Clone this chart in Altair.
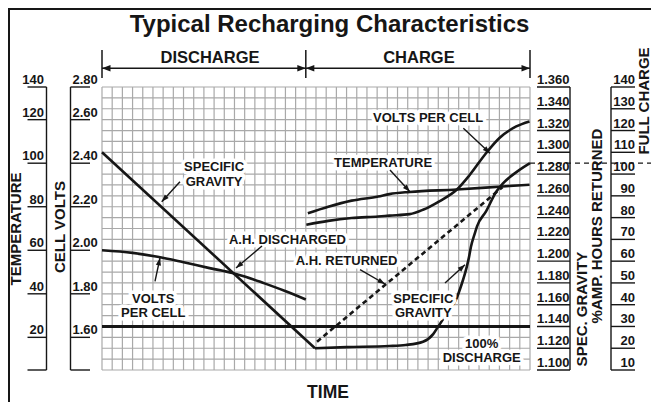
import math
import altair as alt
import pandas as pd

# ---------------- data (time axis in grid columns: discharge 0-20, charge 20-42) -------------
sg_dis_t = [0.0, 20.9]
sg_dis = [1.300, 1.120]

sg_chg_t = [20.9, 24.0, 28.2, 29.8, 31.5, 32.5, 33.0, 33.9, 34.8, 35.3, 35.6, 35.8, 36.0,
            36.2, 36.6, 36.8, 37.7, 38.7, 39.3, 40.7, 42.0]
sg_chg = [1.120, 1.121, 1.122, 1.123, 1.126, 1.133, 1.140, 1.153, 1.166, 1.179, 1.188, 1.195,
          1.203, 1.213, 1.226, 1.232, 1.246, 1.264, 1.271, 1.282, 1.290]

vpc_dis_t = [0.0, 3.0, 5.45, 7.9, 10.55, 12.8, 14.0, 15.95, 17.9, 20.0]
vpc_dis = [2.000, 1.988, 1.970, 1.946, 1.918, 1.896, 1.880, 1.848, 1.814, 1.774]

vpc_chg_t = [20.05, 22.2, 24.5, 27.1, 28.2, 30.2, 31.5, 33.1, 34.8, 36.1, 37.7, 39.0, 40.65, 41.95]
vpc_chg = [2.117, 2.135, 2.148, 2.155, 2.159, 2.166, 2.186, 2.225, 2.278, 2.347, 2.447, 2.516,
           2.569, 2.592]

temp_t = [20.2, 22.2, 24.5, 27.1, 28.2, 30.2, 34.8, 39.3, 41.95]
temp_f = [77.0, 80.0, 82.8, 84.7, 85.8, 86.8, 87.9, 89.3, 90.1]

ah_ret_t = [21.1, 39.3]
ah_ret_pct = [23, 94]

full_discharge_sg = 1.14
full_charge_sg = 1.29

temp_ticks = [20, 40, 60, 80, 100, 120, 140]
volt_ticks = [1.60, 1.80, 2.00, 2.20, 2.40, 2.60, 2.80]
sg_ticks = [1.100, 1.120, 1.140, 1.160, 1.180, 1.200, 1.220, 1.240, 1.260, 1.280, 1.300,
            1.320, 1.340, 1.360]
pct_ticks = [10, 20, 30, 40, 50, 60, 70, 80, 90, 100, 110, 120, 130, 140]

# ---------------- helpers -------------
W, H = 428, 283
FONT = "Liberation Sans"
INK = "#161616"
PX_COL = W / 42.0
PX_SG = H / 0.26


def v2sg(v):
    return min(1.13 + (v - 1.60) * 0.2, 1.36)


def t2sg(t):
    return min(1.13 + (t - 20) * 0.002, 1.36)


def p2sg(p):
    return 1.10 + (p - 10) * 0.002


xs = alt.Scale(domain=[0, 42], nice=False, zero=False)
ys = alt.Scale(domain=[1.10, 1.36], nice=False, zero=False)


def X(f):
    return alt.X(f, type="quantitative", scale=xs, axis=None)


def Y(f):
    return alt.Y(f, type="quantitative", scale=ys, axis=None)


layers = []

# grid
gv = pd.DataFrame({"x": list(range(43))})
gv["y0"], gv["y1"] = 1.10, 1.36
gh = pd.DataFrame({"y": [round(1.10 + i * 0.01, 2) for i in range(27)]})
gh["x0"], gh["x1"] = 0, 42
layers.append(alt.Chart(gv).mark_rule(color="#a9a9a9", strokeWidth=1.2).encode(
    x=X("x"), y=Y("y0"), y2=alt.Y2("y1")))
layers.append(alt.Chart(gh).mark_rule(color="#a9a9a9", strokeWidth=1.2).encode(
    x=X("x0"), x2=alt.X2("x1"), y=Y("y")))

# 100% discharge line
layers.append(alt.Chart(pd.DataFrame({"x0": [0], "x1": [42], "y": [full_discharge_sg]}))
              .mark_rule(color=INK, strokeWidth=3).encode(x=X("x0"), x2=alt.X2("x1"), y=Y("y")))

# curves
rows = []
for name, ts, vals, conv in [
    ("sg_dis", sg_dis_t, sg_dis, lambda v: v),
    ("sg_chg", sg_chg_t, sg_chg, lambda v: v),
    ("vpc_dis", vpc_dis_t, vpc_dis, v2sg),
    ("vpc_chg", vpc_chg_t, vpc_chg, v2sg),
    ("temp", temp_t, temp_f, t2sg),
]:
    for t, v in zip(ts, vals):
        rows.append({"series": name, "t": t, "y": conv(v)})
curves = pd.DataFrame(rows)
layers.append(alt.Chart(curves).mark_line(color=INK, strokeWidth=2.6, interpolate="monotone")
              .encode(x=X("t"), y=Y("y"), detail="series:N"))

ah = pd.DataFrame({"t": ah_ret_t, "y": [p2sg(p) for p in ah_ret_pct]})
layers.append(alt.Chart(ah).mark_line(color=INK, strokeWidth=2.6, strokeDash=[5, 3.5])
              .encode(x=X("t"), y=Y("y")))

# full charge dashed line to the right
layers.append(alt.Chart(pd.DataFrame({"y": [full_charge_sg]}))
              .mark_rule(color=INK, strokeWidth=1.3, strokeDash=[5, 4])
              .encode(x=alt.value(W), x2=alt.value(549), y=Y("y")))

# annotations
ann = pd.DataFrame([
    {"x": 11.0, "y": 1.2865, "text": "SPECIFIC\nGRAVITY"},
    {"x": 18.2, "y": 1.2194, "text": "A.H. DISCHARGED"},
    {"x": 5.03, "y": 1.1654, "text": "VOLTS\nPER CELL"},
    {"x": 24.0, "y": 1.1999, "text": "A.H. RETURNED"},
    {"x": 31.53, "y": 1.1654, "text": "SPECIFIC\nGRAVITY"},
    {"x": 37.26, "y": 1.1241, "text": "100%\nDISCHARGE"},
    {"x": 27.58, "y": 1.2905, "text": "TEMPERATURE"},
    {"x": 32.0, "y": 1.3313, "text": "VOLTS PER CELL"},
])
txt_kw = dict(font=FONT, fontWeight="bold", fontSize=13, align="center", baseline="middle",
              lineBreak="\n", lineHeight=14.5)
layers.append(alt.Chart(ann).mark_text(color="white", stroke="white", strokeWidth=7,
                                       strokeJoin="round", **txt_kw)
              .encode(x=X("x"), y=Y("y"), text="text:N"))
layers.append(alt.Chart(ann).mark_text(color=INK, **txt_kw)
              .encode(x=X("x"), y=Y("y"), text="text:N"))

arrows = pd.DataFrame([
    {"x": 7.65, "y": 1.2730, "x2": 5.86, "y2": 1.2546},
    {"x": 15.70, "y": 1.2139, "x2": 13.15, "y2": 1.1937},
    {"x": 5.20, "y": 1.1815, "x2": 5.69, "y2": 1.2029},
    {"x": 25.32, "y": 1.1922, "x2": 27.77, "y2": 1.1790},
    {"x": 33.66, "y": 1.1799, "x2": 35.62, "y2": 1.1967},
    {"x": 28.26, "y": 1.2838, "x2": 30.22, "y2": 1.2638},
    {"x": 35.46, "y": 1.3221, "x2": 38.08, "y2": 1.2991},
])
arrows["ang"] = [
    math.degrees(math.atan2(-(r.y2 - r.y) * PX_SG, (r.x2 - r.x) * PX_COL)) % 360
    for r in arrows.itertuples()
]
HEAD = "M0,0L-2,-0.7L-2,0.7Z"
layers.append(alt.Chart(arrows).mark_rule(color=INK, strokeWidth=1.4).encode(
    x=X("x"), y=Y("y"), x2=alt.X2("x2"), y2=alt.Y2("y2")))
layers.append(alt.Chart(arrows).mark_point(shape=HEAD, filled=True, color=INK, size=56, opacity=1)
              .encode(x=X("x2"), y=Y("y2"), angle=alt.Angle("ang:Q", scale=None)))

# side scales (bracket style)
lab_kw = dict(font=FONT, fontWeight="bold", fontSize=13, baseline="alphabetic", dy=-3, color=INK)


def bracket(ticks_sg, labels, vx, tx0, tx1, lx, align):
    df = pd.DataFrame({"sg": ticks_sg, "label": labels})
    out = [
        alt.Chart(pd.DataFrame({"y0": [1.10], "y1": [1.36]})).mark_rule(color=INK, strokeWidth=1.4)
        .encode(x=alt.value(vx), y=Y("y0"), y2=alt.Y2("y1")),
        alt.Chart(df).mark_rule(color=INK, strokeWidth=1.4)
        .encode(x=alt.value(tx0), x2=alt.value(tx1), y=Y("sg")),
        alt.Chart(df).mark_text(align=align, **lab_kw)
        .encode(x=alt.value(lx), y=Y("sg"), text="label:N"),
    ]
    return out


layers += bracket([t2sg(t) for t in temp_ticks] + [1.10], [str(t) for t in temp_ticks] + [""],
                  -55.5, -74.5, -55.5, -58, "right")
layers += bracket([v2sg(v) for v in volt_ticks] + [1.10], [f"{v:.2f}" for v in volt_ticks] + [""],
                  -31.5, -31.5, -12, -29.5, "left")
layers += bracket(sg_ticks, [f"{s:.3f}" for s in sg_ticks], 468, 435, 468, 435, "left")
layers += bracket([p2sg(p) for p in pct_ticks], [str(p) for p in pct_ticks], 509, 509, 533, 533,
                  "right")

# axis titles
one = pd.DataFrame({"a": [0]})
for text, x, y, size in [
    ("TEMPERATURE", -86, 142, 15),
    ("CELL VOLTS", -42, 140, 15),
    ("SPEC. GRAVITY", 480, 222, 15),
    ("%AMP. HOURS RETURNED", 495, 139, 15),
    ("FULL CHARGE", 542, 14, 15),
]:
    layers.append(alt.Chart(one).mark_text(font=FONT, fontWeight="bold", fontSize=size, angle=270,
                                           align="center", baseline="middle", color=INK)
                  .encode(x=alt.value(x), y=alt.value(y), text=alt.value(text)))

layers.append(alt.Chart(one).mark_text(font=FONT, fontWeight="bold", fontSize=24, align="center",
                                       baseline="middle", color=INK)
              .encode(x=alt.value(227.5), y=alt.value(-62.5),
                      text=alt.value("Typical Recharging Characteristics")))
layers.append(alt.Chart(one).mark_text(font=FONT, fontWeight="bold", fontSize=17.5, align="center",
                                       baseline="middle", color=INK)
              .encode(x=alt.value(226), y=alt.value(306), text=alt.value("TIME")))

# phase header: DISCHARGE / CHARGE with arrows
phase = pd.DataFrame({"x": [10.6, 31.1], "text": ["DISCHARGE", "CHARGE"]})
layers.append(alt.Chart(phase).mark_text(font=FONT, fontWeight="bold", fontSize=16.5,
                                         align="center", baseline="middle", color=INK)
              .encode(x=X("x"), y=alt.value(-29), text="text:N"))
bars = pd.DataFrame({"x": [0, 20, 42]})
layers.append(alt.Chart(bars).mark_rule(color=INK, strokeWidth=1.5)
              .encode(x=X("x"), y=alt.value(-37), y2=alt.value(-9)))
layers.append(alt.Chart(pd.DataFrame({"x0": [0], "x1": [42]})).mark_rule(color=INK, strokeWidth=1.5)
              .encode(x=X("x0"), x2=alt.X2("x1"), y=alt.value(-18.7)))
heads = pd.DataFrame({"x": [0, 20, 20, 42], "ang": [180, 0, 180, 0]})
layers.append(alt.Chart(heads).mark_point(shape="M0,0L-2,-0.75L-2,0.75Z", filled=True, color=INK,
                                          size=72, opacity=1)
              .encode(x=X("x"), y=alt.value(-18.7), angle=alt.Angle("ang:Q", scale=None)))

# outer frame (top and left edges)
layers.append(alt.Chart(one).mark_rule(color=INK, strokeWidth=3)
              .encode(x=alt.value(-93.5), x2=alt.value(549), y=alt.value(-78.5)))
layers.append(alt.Chart(one).mark_rule(color=INK, strokeWidth=3)
              .encode(x=alt.value(-93.5), y=alt.value(-79), y2=alt.value(315)))

chart = alt.layer(*layers).properties(
    width=W, height=H,
    padding={"left": 94, "top": 79, "right": 121, "bottom": 32},
    autosize=alt.AutoSizeParams(type="none"),
).configure_view(stroke=None)

chart.save("out.html", embed_options={"renderer": "svg", "actions": False})
